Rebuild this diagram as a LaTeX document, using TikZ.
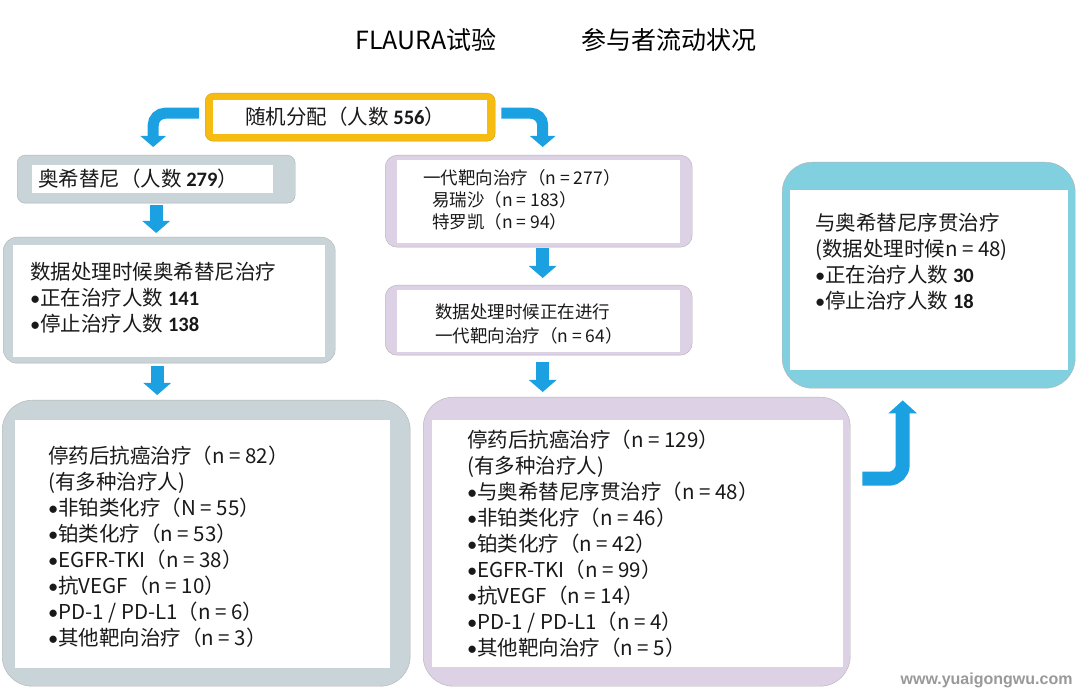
\documentclass[tikz,border=0pt]{standalone}
\usepackage{fontspec}
\setmainfont{Noto Sans CJK SC}
\newfontfamily\numfont{Carlito}
\newfontfamily\webfont{Liberation Sans}
\usetikzlibrary{arrows.meta,positioning}

\definecolor{flowblue}{RGB}{27,161,226}
\definecolor{randgold}{RGB}{247,188,18}
\definecolor{osigrey}{RGB}{200,212,216}
\definecolor{geflilac}{RGB}{221,209,229}
\definecolor{seqcyan}{RGB}{128,208,224}

\newcommand{\bnum}[1]{{\numfont\bfseries #1}}
\newcommand{\bul}{{\numfont •}}

\begin{document}
\begin{tikzpicture}[x=1pt, y=-1pt,
    band/.style={draw=black!30, thin, inner sep=0pt, anchor=north west},
    core/.style={fill=white, inner sep=0pt, anchor=north west},
    body/.style={inner sep=0pt, anchor=west, align=left, text=black!90, font=\fontsize{20.5}{26}\selectfont},
    smallbody/.style={body, font=\fontsize{17.5}{22}\selectfont},
    flow/.style={draw=flowblue, line width=11pt, rounded corners=12pt, -{Triangle[width=25pt,length=11pt]}}
  ]
    \path[use as bounding box, fill=white] (0,0) rectangle (1080,692);

    % Title.
    \node[anchor=west, font=\fontsize{25}{30}\selectfont] at (352,40) (trial) {FLAURA试验};
    \node[anchor=west, font=\fontsize{25}{30}\selectfont] at (578,40) (flowtitle) {参与者流动状况};

    % Randomisation.
    \node[band, draw=randgold!85!black, fill=randgold, rounded corners=8pt, minimum width=290pt, minimum height=48pt] at (205,93) (randBox) {};
    \node[core, minimum width=274pt, minimum height=34pt] at ([xshift=8pt,yshift=-7pt]randBox.north west) (randCore) {};
    \node[body, anchor=center] at ([xshift=-5pt]randCore.center) (randText) {随机分配（人数 \bnum{556}）};

    % Osimertinib arm.
    \node[band, fill=osigrey, rounded corners=8pt, minimum width=278pt, minimum height=48pt] at (17,155) (osiBox) {};
    \node[core, minimum width=241pt, minimum height=28pt] at ([xshift=15pt,yshift=-10pt]osiBox.north west) (osiCore) {};
    \node[body] at ([xshift=6pt]osiCore.west) (osiText) {奥希替尼（人数 \bnum{279}）};

    \node[band, fill=osigrey, rounded corners=14pt, minimum width=332pt, minimum height=126pt] at (3,237) (osiState) {};
    \node[core, minimum width=312pt, minimum height=112pt] at ([xshift=10pt,yshift=-8pt]osiState.north west) (osiStateCore) {};
    \node[body] at ([xshift=17pt,yshift=3.5pt]osiStateCore.west) (osiStateText) {数据处理时候奥希替尼治疗\\\bul 正在治疗人数 \bnum{141}\\\bul 停止治疗人数 \bnum{138}};

    \node[band, fill=osigrey, rounded corners=30pt, minimum width=408pt, minimum height=286pt] at (2,400) (osiAfter) {};
    \node[core, minimum width=375pt, minimum height=248pt] at ([xshift=13pt,yshift=-20pt]osiAfter.north west) (osiAfterCore) {};
    \node[body] at ([xshift=33pt,yshift=-2.5pt]osiAfterCore.west) (osiAfterText) {停药后抗癌治疗（n = 82）\\(有多种治疗人)\\\bul 非铂类化疗（N = 55）\\\bul 铂类化疗（n = 53）\\\bul EGFR-TKI（n = 38）\\\bul 抗VEGF（n = 10）\\\bul PD-1 / PD-L1（n = 6）\\\bul 其他靶向治疗（n = 3）};

    % First-generation TKI arm.
    \node[band, fill=geflilac, rounded corners=12pt, minimum width=307pt, minimum height=92pt] at (385,155) (gefBox) {};
    \node[core, minimum width=283pt, minimum height=83pt] at ([xshift=12pt,yshift=-5pt]gefBox.north west) (gefCore) {};
    \node[smallbody] at ([xshift=26pt,yshift=1.5pt]gefCore.west) (gefText) {一代靶向治疗（n = 277）\\\hspace{9pt}易瑞沙（n = 183）\\\hspace{9pt}特罗凯（n = 94）};

    \node[band, fill=geflilac, rounded corners=12pt, minimum width=307pt, minimum height=70pt] at (385,285) (gefState) {};
    \node[core, minimum width=283pt, minimum height=62pt] at ([xshift=12pt,yshift=-5pt]gefState.north west) (gefStateCore) {};
    \node[smallbody, font=\fontsize{17.5}{24}\selectfont] at ([xshift=38pt,yshift=-3pt]gefStateCore.west) (gefStateText) {数据处理时候正在进行\\一代靶向治疗（n = 64）};

    \node[band, fill=geflilac, rounded corners=30pt, minimum width=427pt, minimum height=289pt] at (423,397) (gefAfter) {};
    \node[core, minimum width=411pt, minimum height=247pt] at ([xshift=9pt,yshift=-23pt]gefAfter.north west) (gefAfterCore) {};
    \node[body] at ([xshift=35pt]gefAfterCore.west) (gefAfterText) {停药后抗癌治疗（n = 129）\\(有多种治疗人)\\\bul 与奥希替尼序贯治疗（n = 48）\\\bul 非铂类化疗（n = 46）\\\bul 铂类化疗（n = 42）\\\bul EGFR-TKI（n = 99）\\\bul 抗VEGF（n = 14）\\\bul PD-1 / PD-L1（n = 4）\\\bul 其他靶向治疗（n = 5）};

    % Sequential osimertinib.
    \node[band, fill=seqcyan, rounded corners=30pt, minimum width=293pt, minimum height=226pt] at (782,162) (seqBox) {};
    \node[core, minimum width=278pt, minimum height=180pt] at ([xshift=8pt,yshift=-28pt]seqBox.north west) (seqCore) {};
    \node[body] at ([xshift=25pt,yshift=19pt]seqCore.west) (seqText) {与奥希替尼序贯治疗\\(数据处理时候n = 48)\\\bul 正在治疗人数 \bnum{30}\\\bul 停止治疗人数 \bnum{18}};

    % Arrows.
    \draw[flow] ([xshift=-6pt,yshift=4pt]randBox.west) -| ([xshift=-3pt,yshift=8pt]osiBox.north);
    \draw[flow] ([xshift=6pt,yshift=4pt]randBox.east) -| ([xshift=4pt,yshift=8pt]gefBox.north);
    \draw[flow, line width=13pt, -{Triangle[width=27pt,length=12pt]}] ([yshift=-2pt]osiBox.south) -- ([yshift=4pt]osiBox.south |- osiState.north);
    \draw[flow, line width=13pt, -{Triangle[width=27pt,length=12pt]}] ([xshift=-12pt,yshift=-3pt]osiState.south) -- ([xshift=-12pt,yshift=5pt]osiState.south |- osiAfter.north);
    \draw[flow, line width=13pt, -{Triangle[width=27pt,length=12pt]}] ([xshift=4pt,yshift=-1pt]gefBox.south) -- ([xshift=4pt,yshift=7pt]gefBox.south |- gefState.north);
    \draw[flow, line width=13pt, -{Triangle[width=27pt,length=12pt]}] ([xshift=4pt,yshift=-7pt]gefState.south) -- ([xshift=4pt,yshift=5pt]gefState.south |- gefAfter.north);
    \draw[flow, line width=14pt, rounded corners=14pt, -{Triangle[width=28pt,length=13pt]}] ([xshift=12pt,yshift=63pt]gefAfter.east) -| ([xshift=-26pt,yshift=-12pt]seqBox.south);

    % Watermark.
    \node[anchor=east, text=black!40, font=\webfont\bfseries\fontsize{16}{18}\selectfont] at (1076,680) (site) {www.yuaigongwu.com};
  \end{tikzpicture}
\end{document}
